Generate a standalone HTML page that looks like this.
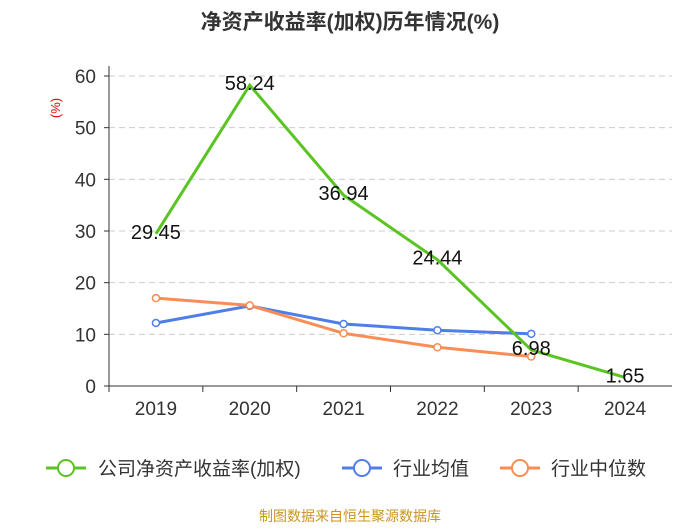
<!DOCTYPE html>
<html><head><meta charset="utf-8"><style>
body{margin:0;background:#fff;font-family:"Liberation Sans","Noto Sans CJK SC",sans-serif;}
svg text{font-family:"Liberation Sans","Noto Sans CJK SC",sans-serif;}
</style></head><body>
<svg id="c" width="700" height="525">
<text x="350" y="29" text-anchor="middle" font-size="21" font-weight="bold" fill="#333">净资产收益率(加权)历年情况(%)</text>
<text transform="translate(60,108) rotate(-90)" text-anchor="middle" font-size="13" fill="#e00">(%)</text>
<g id="grid"></g><g id="series"></g>
<g>
<g><line x1="46" y1="468" x2="86" y2="468" stroke="#5ac422" stroke-width="3"/><circle cx="66" cy="468" r="8" fill="#fff" stroke="#5ac422" stroke-width="2"/><text x="98" y="475" font-size="19" fill="#333">公司净资产收益率(加权)</text></g>
<g><line x1="342" y1="468" x2="382" y2="468" stroke="#4e7ee8" stroke-width="3"/><circle cx="362" cy="468" r="8" fill="#fff" stroke="#4e7ee8" stroke-width="2"/><text x="393" y="475" font-size="19" fill="#333">行业均值</text></g>
<g><line x1="500" y1="468" x2="540" y2="468" stroke="#fa8c55" stroke-width="3"/><circle cx="520" cy="468" r="8" fill="#fff" stroke="#fa8c55" stroke-width="2"/><text x="551" y="475" font-size="19" fill="#333">行业中位数</text></g>
</g>
<text x="350" y="521" text-anchor="middle" font-size="14" fill="#c8961e">制图数据来自恒生聚源数据库</text>
</svg>
<script>
const categories=["2019","2020","2021","2022","2023","2024"];
const roe=[29.45,58.24,36.94,24.44,6.98,1.65];
const industryMean=[12.2,15.5,12.0,10.8,10.1,null];
const industryMedian=[17.0,15.6,10.2,7.5,5.7,null];
const yTicks=[0,10,20,30,40,50,60];
const NS="http://www.w3.org/2000/svg";
const L=109,R=672,Y0=386,Y60=76;
const band=(R-L)/categories.length;
const x=i=>L+band*(i+0.5);
const y=v=>Y0-(v/60)*(Y0-Y60);
function mk(t,a,p){const e=document.createElementNS(NS,t);for(const k in a)e.setAttribute(k,a[k]);p.appendChild(e);return e;}
const g=document.getElementById('grid'),s=document.getElementById('series');
yTicks.forEach(v=>{
 if(v>0){const l=mk('line',{x1:L,x2:R,y1:y(v),y2:y(v),stroke:'#ccc','stroke-dasharray':'6,4'},g);
 
 }
 const t=mk('text',{x:96,y:y(v)+7,'text-anchor':'end','font-size':19,fill:'#333'},g);t.textContent=v;
 
 
 mk('line',{x1:L-5,x2:L,y1:y(v),y2:y(v),stroke:'#333'},g);
});
mk('line',{x1:L,x2:L,y1:Y60-10,y2:Y0,stroke:'#333'},g);
const ax=mk('line',{x1:L,x2:R,y1:Y0,y2:Y0,stroke:'#333'},g);


categories.forEach((c,i)=>{
 mk('line',{x1:L+band*i,x2:L+band*i,y1:Y0,y2:Y0+6,stroke:'#333'},g);
 const t=mk('text',{x:x(i),y:Y0+29,'text-anchor':'middle','font-size':19,fill:'#333'},g);t.textContent=c;
 
 
});
function line(data,color,name,markers){
 const pts=data.map((v,i)=>v==null?null:[x(i),y(v)]).filter(p=>p);
 const p=mk('polyline',{points:pts.map(p=>p.join(',')).join(' '),fill:'none',stroke:color,'stroke-width':3},s);
 
 
 if(markers)pts.forEach(q=>{const c=mk('circle',{cx:q[0],cy:q[1],r:3.5,fill:'#fff',stroke:color,'stroke-width':1.5},s);
 
 });
}
line(industryMean,'#4e7ee8','industry-mean',true);
line(industryMedian,'#fa8c55','industry-median',true);
line(roe,'#5ac422','roe',false);
roe.forEach((v,i)=>{const t=mk('text',{x:x(i),y:y(v)+5,'text-anchor':'middle','font-size':20,fill:'#111'},s);t.textContent=v.toFixed(2);
 
 });
</script>
</body></html>
